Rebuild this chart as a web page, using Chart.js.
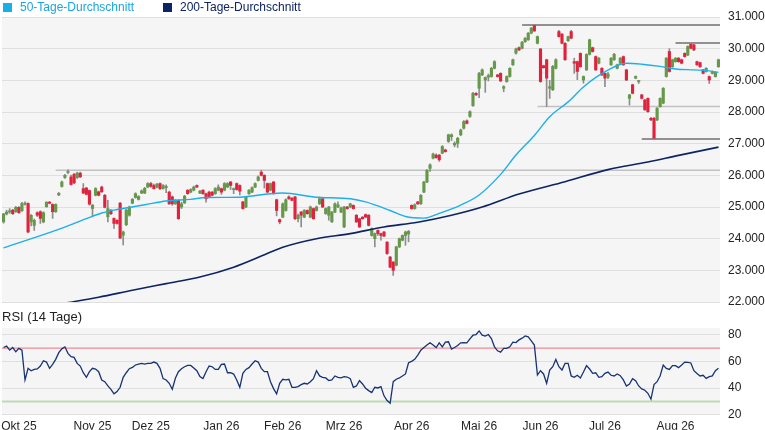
<!DOCTYPE html>
<html lang="de">
<head>
<meta charset="utf-8">
<title>Kursverlauf mit RSI</title>
<script src="https://cdn.jsdelivr.net/npm/chart.js@4.4.1/dist/chart.umd.min.js"></script>
<style>
  html, body { margin: 0; padding: 0; background: #fff; }
  #wrap { position: relative; width: 765px; height: 430px; overflow: hidden; font-family: "Liberation Sans", Arial, sans-serif; }
  #wrap canvas { position: absolute; left: 0; top: 0; }
  .box { position: absolute; top: 3px; width: 9px; height: 9px; }
  .txt { position: absolute; top: 0; font-size: 12px; line-height: 14px; white-space: nowrap; }
  #rsiTitle { position: absolute; left: 2px; top: 309px; font-size: 13px; line-height: 15px; color: #222; }
</style>
</head>
<body>
<div id="wrap">
  <canvas id="priceChart" width="765" height="430"></canvas>
  <canvas id="rsiChart" width="765" height="430"></canvas>
  <span class="box" style="left:3px;background:#19aee8"></span>
  <span class="txt" style="left:20px;color:#19a6e0">50-Tage-Durchschnitt</span>
  <span class="box" style="left:163px;background:#0c2462"></span>
  <span class="txt" style="left:180px;color:#0c2462">200-Tage-Durchschnitt</span>
  <div id="rsiTitle">RSI (14 Tage)</div>
</div>
<script>
// Tageskerzen (Eröffnung, Hoch, Tief, Schluss), ein Wert pro Handelstag
const opens = [
  24530,24780,24840,24900,24850,24990,24880,25090,25110,24530,24420,24820,24850,24530,25010,25150,25080,24850,25380,25650,
  25930,26090,25950,26030,25930,26070,25580,25600,25520,24950,25370,25480,25630,25370,24690,24900,24640,24580,25120,24110,
  24440,24740,25120,25300,25240,25440,25440,25630,25740,25680,25630,25740,25580,25610,25470,25320,25100,25210,25000,25130,
  25530,25470,25530,25680,25440,25530,25420,25470,25470,25420,25530,25580,25530,25630,25790,25550,25740,25680,25160,25000,
  25420,25470,25630,25840,26100,26000,25740,25530,25790,25230,24600,24680,24890,25320,25280,25320,24630,24840,24680,24890,
  24680,24950,24890,25100,25260,24790,24740,24530,24840,25000,24840,24370,25000,25000,25050,24740,24630,24680,24760,24740,
  24100,24000,24260,24160,24210,23890,23420,23260,23160,23740,23950,24100,24150,25050,24950,25160,25100,25470,25790,26220,
  26540,26640,26640,26700,26800,27070,27220,26960,27010,27280,27490,27720,27860,28200,28590,28750,29170,29010,29100,29120,
  29380,29170,29220,28750,28960,29120,29490,29860,30030,30010,30220,30280,30490,30730,30170,29990,29460,29650,28750,28700,
  29380,30540,30460,30170,30250,30540,29590,29590,29850,29010,29330,29820,30030,29750,29540,29380,29220,29100,29490,29650,
  29380,29540,29750,29330,28430,28860,29070,28960,28540,28380,28430,27800,27800,27750,28170,28280,29120,29910,29430,29590,
  29700,29650,29850,29800,30140,30120,29590,29560,29330,29280,29120,29220,29120,29430
];
const highs = [
  24800,24900,24950,24930,25020,25010,25150,25160,25130,24760,24620,24850,24880,24850,25170,25180,25100,25100,25460,25820,
  26030,26170,26010,26060,26100,26100,25740,25620,25540,25080,25610,25500,25660,25400,25210,24920,24660,24600,25150,24240,
  24930,25030,25270,25450,25360,25540,25620,25770,25780,25720,25750,25760,25710,25700,25500,25350,25240,25230,25150,25370,
  25550,25580,25660,25700,25530,25550,25440,25500,25490,25610,25700,25600,25770,25770,25810,25600,25760,25700,25180,25340,
  25550,25640,25760,25980,26160,26020,25760,25760,25810,25250,24620,25130,25260,25350,25300,25340,24780,24860,24920,24910,
  25030,24970,25030,25320,25280,24970,25020,24860,25130,25160,25000,25020,25020,25120,25070,24760,24650,24700,24780,24760,
  24340,24180,24280,24180,24230,23910,23440,23280,23760,24020,24120,24240,24260,25070,25100,25180,25390,25810,26180,26360,
  26700,26680,26660,26940,26830,27300,27310,27060,27200,27460,27730,27750,28040,28620,28610,29250,29360,29110,29200,29410,
  29620,29190,29240,28830,29140,29400,29670,30020,30060,30230,30350,30510,30670,30750,30400,30010,29480,29670,29000,29470,
  29680,30580,30480,30190,30400,30580,29700,29610,29870,29140,29840,30300,30050,29770,29720,29400,29240,29250,29720,29850,
  29510,29720,29770,29350,28560,28880,29140,29000,28560,28400,28450,27830,27830,28140,28450,28770,29720,30000,29670,29720,
  29720,29670,29870,30090,30180,30140,29610,29580,29350,29400,29140,29300,29270,29670
];
const lows = [
  24490,24750,24800,24760,24830,24800,24860,25060,24180,24400,24260,24700,24480,24500,24990,25100,24640,24830,25360,25630,
  25900,26050,25690,25740,25900,25930,25420,25380,25060,24720,25350,25350,25460,24970,24530,24760,24320,24460,24000,23800,
  24410,24710,25100,25280,25220,25420,25420,25610,25620,25560,25600,25550,25560,25450,25080,25050,25080,24610,24950,25110,
  25400,25450,25510,25610,25420,25400,25150,25290,25350,25400,25510,25400,25510,25610,25550,25420,25530,25380,24930,24980,
  25400,25450,25610,25820,25980,25600,25450,25510,25400,24720,24470,24660,24870,25240,25190,24600,24530,24370,24660,24770,
  24660,24610,24870,25080,24980,24770,24580,24510,24820,24980,24820,24350,24930,24980,24930,24510,24350,24610,24660,24400,
  24080,23740,24100,23950,24060,23500,23080,22840,23140,23720,23930,23790,23900,24930,24930,25080,25080,25450,25770,26120,
  26520,26540,26440,26680,26730,27040,27100,26900,26880,27250,27460,27620,27830,28180,28520,28450,29150,28620,28980,29100,
  29360,29100,28960,28640,28940,29100,29470,29830,29940,29990,30200,30260,30470,30540,30150,28940,29380,28170,28430,28680,
  29360,30360,30150,29630,30230,30310,29220,29020,29410,28910,29310,29800,29890,29310,29520,29150,28800,29050,29470,29630,
  29360,29520,29470,28990,28220,28570,29050,28900,28410,28050,27990,27730,27150,27730,28150,28260,29100,29260,29410,29570,
  29570,29520,29730,29780,29990,29940,29470,29410,29200,29260,28900,29200,29100,29410
];
const closes = [
  24780,24840,24880,24790,24990,24820,25110,25120,24210,24740,24580,24740,24640,24820,25150,25120,24850,25080,25430,25790,
  26000,26100,25710,25760,26070,25950,25440,25400,25090,25060,25580,25370,25480,24990,24950,24790,24480,24480,24020,24210,
  24900,25000,25240,25420,25330,25510,25590,25740,25650,25580,25720,25580,25680,25650,25100,25100,25210,24630,25100,25340,
  25420,25550,25630,25630,25500,25420,25260,25310,25370,25580,25630,25470,25740,25740,25680,25580,25550,25500,24950,25320,
  25530,25610,25740,25950,26000,25840,25470,25740,25420,24890,24530,25100,25230,25260,25210,24630,24740,24740,24890,24790,
  25000,24630,25000,25260,25000,24950,25000,24840,25100,25070,24970,25000,24950,25100,24950,24530,24370,24630,24680,24420,
  24320,24160,24160,24100,24080,23530,23100,23000,23740,24000,24100,24210,24230,24950,25070,25100,25370,25790,26160,26330,
  26670,26560,26490,26910,26750,27280,27280,27010,27170,27430,27700,27640,28010,28590,28540,29220,29330,29090,29150,29380,
  29590,29120,28980,28800,29120,29380,29650,29990,29960,30200,30330,30490,30650,30560,30380,28960,29400,29070,28800,29440,
  29650,30380,30170,29650,30380,30330,29540,29280,29430,29120,29820,30280,29910,29330,29700,29170,29070,29200,29700,29820,
  29490,29700,29490,29010,28540,28590,29120,28980,28430,28070,28010,27750,27170,28120,28430,28750,29700,29280,29650,29700,
  29590,29540,29750,30070,30010,29960,29490,29430,29220,29380,29010,29280,29250,29650
];

const ma50Days = [0,17,27,32,37,46,53,61,66,77,87,91,102,113,118,126,131,137,142,149,155,162,167,173,178,184,189,195,203,208,214,219,225,230,233];
const ma50 = [23710,24260,24630,24810,24920,25070,25190,25240,25300,25310,25420,25440,25310,25260,25160,24890,24700,24650,24800,25060,
  25380,26030,26640,27260,27850,28320,28790,29210,29540,29510,29440,29360,29330,29300,29250];
const ma200Days = [20,31,42,53,64,75,84,91,102,113,124,135,146,156,168,183,197,210,220,233];
const ma200 = [21965,22150,22370,22580,22790,23100,23450,23730,24000,24160,24370,24520,24740,25000,25410,25800,26180,26420,26630,26890];

// Horizontale Marken (Niveau, Start-Index)
const levelValues = [26160, 30750, 28170, 27150, 30180];
const levelStarts = [17, 169, 174, 208, 219];

// RSI (14 Tage)
const rsi = [
  70.4,71.4,68.4,70.4,67.2,69.7,68.4,46.1,54.8,53.0,54.0,54.3,56.5,60.5,59.5,54.8,57.8,61.5,66.5,69.4,
  70.9,66.0,63.5,63.0,58.5,56.5,51.5,48.1,52.3,54.8,54.3,52.3,46.1,44.8,41.6,39.1,35.7,37.4,40.6,48.1,
  51.5,54.5,55.5,57.3,58.0,58.5,58.0,58.5,58.5,59.5,58.5,54.8,47.1,46.1,43.6,39.1,47.3,52.3,54.5,56.0,
  57.0,57.0,55.0,53.0,48.6,47.1,52.3,56.5,56.0,54.0,54.0,57.8,58.0,51.5,51.5,50.5,46.1,40.6,51.0,54.0,
  55.3,58.0,60.5,59.5,54.8,52.3,52.3,44.8,39.6,35.7,43.6,46.6,46.1,46.6,40.6,40.6,41.1,42.6,43.6,43.1,
  44.8,47.1,53.0,49.1,48.1,47.6,45.6,46.1,49.1,48.1,47.6,48.6,48.3,47.1,40.6,41.6,45.6,43.1,39.9,38.1,
  36.6,40.6,40.1,41.1,34.2,30.7,28.7,44.8,46.6,47.6,49.1,50.6,59.0,60.0,61.5,64.7,68.4,70.4,72.2,73.9,
  72.2,70.4,73.9,70.9,74.4,74.7,69.2,70.4,71.9,73.9,74.1,73.9,76.9,79.6,80.1,82.8,79.6,78.9,80.1,77.1,
  70.9,67.9,66.9,69.7,69.7,70.9,74.4,74.1,76.1,77.4,79.1,78.4,75.4,72.2,49.8,53.0,50.6,43.6,53.5,56.0,
  61.5,56.0,53.5,58.5,58.5,49.1,48.1,49.6,47.6,52.0,56.8,54.3,51.1,51.5,48.1,48.6,51.0,52.0,49.6,49.1,
  50.6,49.3,46.1,41.6,43.1,47.1,45.6,41.6,39.4,38.4,36.1,31.7,42.6,44.8,49.3,57.3,54.8,54.0,56.8,56.8,
  55.3,57.3,59.5,59.3,58.8,53.0,51.0,49.1,49.6,47.3,48.6,49.1,53.0,54.8
];
const rsiUpper = 70;
const rsiLower = 30;

// Achsen
const priceTicks = [22000, 23000, 24000, 25000, 26000, 27000, 28000, 29000, 30000, 31000];
const rsiTicks = [20, 40, 60, 80];
const monthDays = [5, 29, 48, 71, 91, 111, 133, 155, 175, 196, 219];
const monthLabels = ['Okt 25', 'Nov 25', 'Dez 25', 'Jan 26', 'Feb 26', 'Mrz 26', 'Apr 26', 'Mai 26', 'Jun 26', 'Jul 26', 'Aug 26'];

const N = closes.length;
const FONT = { family: '"Liberation Sans", Arial, sans-serif', size: 12 };

const plotBg = {
  id: 'plotBg',
  beforeDraw(chart) {
    const { ctx, chartArea: a } = chart;
    ctx.save();
    ctx.fillStyle = '#f5f5f5';
    ctx.fillRect(a.left, a.top, a.right - a.left, a.bottom - a.top);
    ctx.restore();
  }
};

function formatThousands(v) {
  return String(v).replace(/\B(?=(\d{3})+$)/g, '.');
}

function levelDataset(value, start, k) {
  const dark = k !== 0 && k !== 2;
  return {
    type: 'line',
    data: [{ x: start, y: value }, { x: N - 0.5, y: value }],
    borderColor: dark ? '#6f6f6f' : '#c2c2c2',
    borderWidth: 1.5,
    pointRadius: 0,
    order: 6
  };
}

new Chart(document.getElementById('priceChart'), {
  type: 'bar',
  data: {
    datasets: [
      {
        type: 'bar',
        data: highs.map((h, i) => ({ x: i, y: [lows[i], h] })),
        backgroundColor: '#8d8d8d',
        barThickness: 1,
        grouped: false,
        order: 5
      },
      {
        type: 'bar',
        data: opens.map((o, i) => ({ x: i, y: [o, closes[i]] })),
        backgroundColor: opens.map((o, i) => closes[i] >= o ? '#66984a' : '#e2223d'),
        barThickness: 2.5,
        minBarLength: 1,
        grouped: false,
        order: 4
      },
      ...levelValues.map((v, k) => levelDataset(v, levelStarts[k], k)),
      {
        type: 'line',
        label: '200-Tage-Durchschnitt',
        data: ma200Days.map((d, k) => ({ x: d, y: ma200[k] })),
        borderColor: '#0c2462',
        borderWidth: 1.6,
        pointRadius: 0,
        cubicInterpolationMode: 'monotone',
        order: 2
      },
      {
        type: 'line',
        label: '50-Tage-Durchschnitt',
        data: ma50Days.map((d, k) => ({ x: d, y: ma50[k] })),
        borderColor: '#1cb0ea',
        borderWidth: 1.4,
        pointRadius: 0,
        cubicInterpolationMode: 'monotone',
        order: 1
      }
    ]
  },
  options: {
    responsive: false,
    animation: false,
    layout: { padding: { top: 17, bottom: 128, left: 2, right: 0 } },
    plugins: { legend: { display: false }, tooltip: { enabled: false } },
    scales: {
      x: { type: 'linear', min: -0.5, max: N - 0.5, offset: false, display: false },
      y: {
        position: 'right',
        min: 22000,
        max: 31000,
        afterBuildTicks: s => { s.ticks = priceTicks.map(v => ({ value: v })); },
        afterFit: s => { s.width = 45; },
        grid: { color: '#dfdfdf', drawTicks: false },
        border: { display: false },
        ticks: { padding: 8, color: '#222', font: FONT, callback: v => formatThousands(v) }
      }
    }
  },
  plugins: [plotBg]
});

new Chart(document.getElementById('rsiChart'), {
  type: 'line',
  data: {
    datasets: [
      {
        data: rsi.map((v, i) => ({ x: i, y: v })),
        borderColor: '#173372',
        borderWidth: 1.3,
        pointRadius: 0,
        order: 1
      },
      {
        data: [{ x: -0.5, y: rsiUpper }, { x: N - 0.5, y: rsiUpper }],
        borderColor: '#f28a96',
        borderWidth: 1.2,
        pointRadius: 0,
        order: 2
      },
      {
        data: [{ x: -0.5, y: rsiLower }, { x: N - 0.5, y: rsiLower }],
        borderColor: '#bcdcb4',
        borderWidth: 2,
        pointRadius: 0,
        order: 2
      }
    ]
  },
  options: {
    responsive: false,
    animation: false,
    layout: { padding: { top: 328, bottom: 0, left: 2, right: 0 } },
    plugins: { legend: { display: false }, tooltip: { enabled: false } },
    scales: {
      x: {
        type: 'linear',
        min: -0.5,
        max: N - 0.5,
        offset: false,
        grid: { display: false },
        border: { display: false },
        afterBuildTicks: s => { s.ticks = monthDays.map(v => ({ value: v })); },
        afterFit: s => { s.height = 15; },
        ticks: {
          autoSkip: false,
          maxRotation: 0,
          padding: -3,
          color: '#222',
          font: FONT,
          callback: v => monthLabels[monthDays.indexOf(v)]
        }
      },
      y: {
        position: 'right',
        min: 20,
        max: 85,
        afterBuildTicks: s => { s.ticks = rsiTicks.map(v => ({ value: v })); },
        afterFit: s => { s.width = 45; },
        grid: { color: '#dfdfdf', drawTicks: false },
        border: { display: false },
        ticks: { padding: 8, color: '#222', font: FONT }
      }
    }
  },
  plugins: [plotBg]
});
</script>
</body>
</html>
